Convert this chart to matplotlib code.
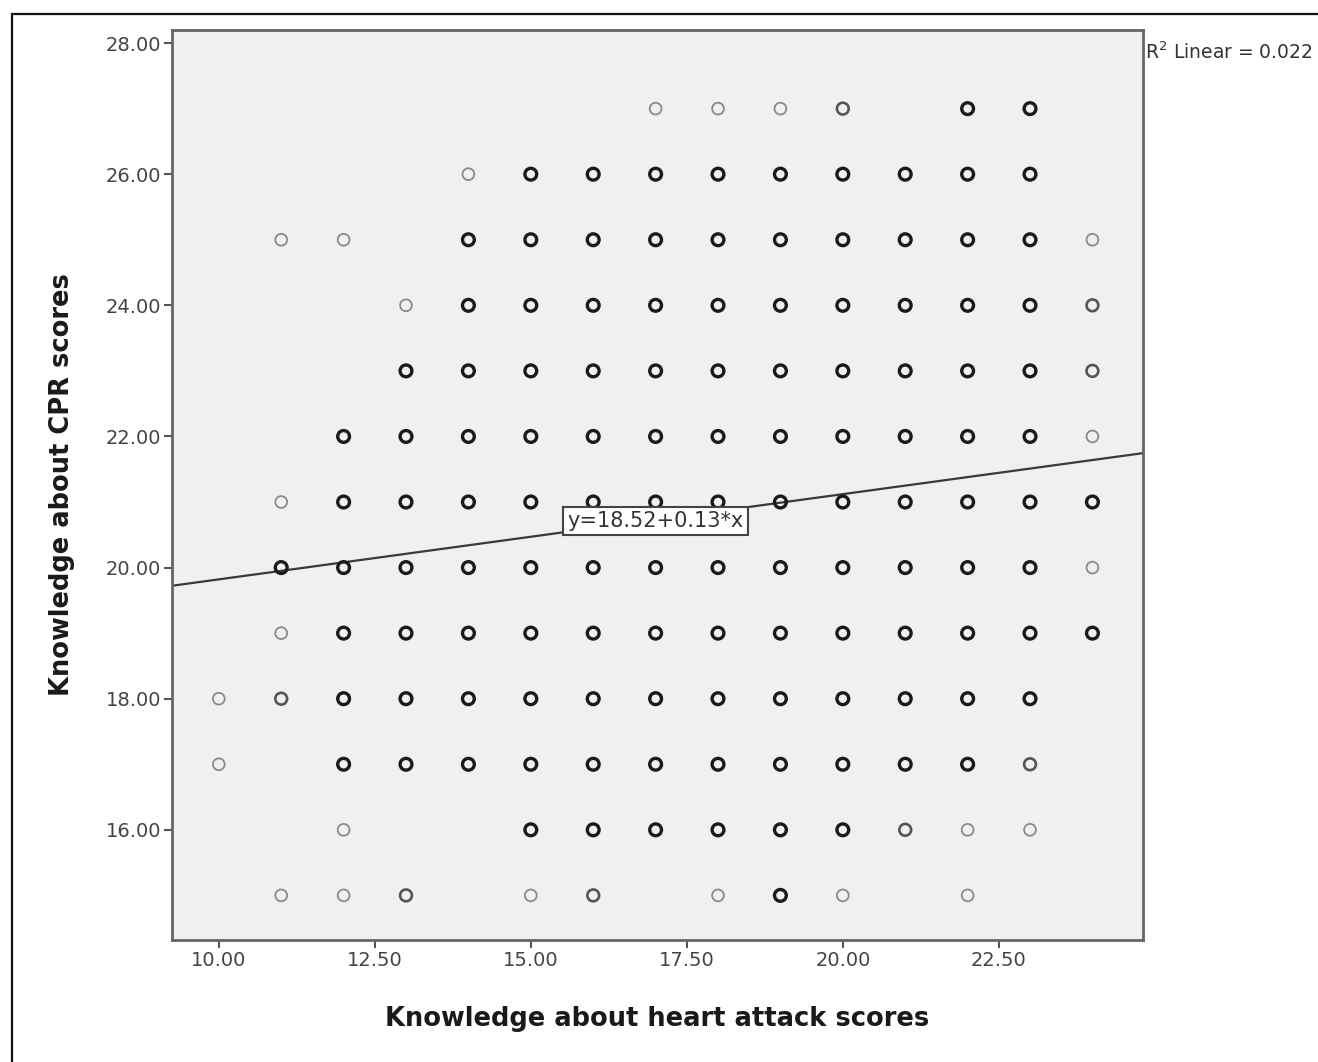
import numpy as np
from matplotlib import pyplot as plt
from matplotlib.patches import Rectangle

# scatter points, row by row (CPR score)
# density: 1 = single faint circle, 2 = medium, 3 = heavily overplotted
heart = [17, 18, 19, 20, 22, 23,                               # 27
         14, 15, 16, 17, 18, 19, 20, 21, 22, 23,               # 26
         11, 12, 14, 15, 16, 17, 18, 19, 20, 21, 22, 23, 24,   # 25
         13, 14, 15, 16, 17, 18, 19, 20, 21, 22, 23, 24,       # 24
         13, 14, 15, 16, 17, 18, 19, 20, 21, 22, 23, 24,       # 23
         12, 13, 14, 15, 16, 17, 18, 19, 20, 21, 22, 23, 24,   # 22
         11, 12, 13, 14, 15, 16, 17, 18, 19, 20, 21, 22, 23, 24,  # 21
         11, 12, 13, 14, 15, 16, 17, 18, 19, 20, 21, 22, 23, 24,  # 20
         11, 12, 13, 14, 15, 16, 17, 18, 19, 20, 21, 22, 23, 24,  # 19
         10, 11, 12, 13, 14, 15, 16, 17, 18, 19, 20, 21, 22, 23,  # 18
         10, 12, 13, 14, 15, 16, 17, 18, 19, 20, 21, 22, 23,      # 17
         12, 15, 16, 17, 18, 19, 20, 21, 22, 23,                  # 16
         11, 12, 13, 15, 16, 18, 19, 20, 22]                      # 15
cpr = ([27] * 6 + [26] * 10 + [25] * 13 + [24] * 12 + [23] * 12 + [22] * 13
       + [21] * 14 + [20] * 14 + [19] * 14 + [18] * 14 + [17] * 13 + [16] * 10 + [15] * 9)
density = [1, 1, 1, 2, 3, 3,
           1, 3, 3, 3, 3, 3, 3, 3, 3, 3,
           1, 1, 3, 3, 3, 3, 3, 3, 3, 3, 3, 3, 1,
           1, 3, 3, 3, 3, 3, 3, 3, 3, 3, 3, 2,
           3, 3, 3, 3, 3, 3, 3, 3, 3, 3, 3, 2,
           3, 3, 3, 3, 3, 3, 3, 3, 3, 3, 3, 3, 1,
           1, 3, 3, 3, 3, 3, 3, 3, 3, 3, 3, 3, 3, 3,
           3, 3, 3, 3, 3, 3, 3, 3, 3, 3, 3, 3, 3, 1,
           1, 3, 3, 3, 3, 3, 3, 3, 3, 3, 3, 3, 3, 3,
           1, 2, 3, 3, 3, 3, 3, 3, 3, 3, 3, 3, 3, 3,
           1, 3, 3, 3, 3, 3, 3, 3, 3, 3, 3, 3, 2,
           1, 3, 3, 3, 3, 3, 3, 2, 1, 1,
           1, 1, 2, 1, 2, 1, 3, 1, 1]

intercept = 18.52
slope = 0.13
r2 = 0.022

xticks = [10.0, 12.5, 15.0, 17.5, 20.0, 22.5]
yticks = [16, 18, 20, 22, 24, 26, 28]

heart = np.array(heart)
cpr = np.array(cpr)
density = np.array(density)

fig = plt.figure(figsize=(13.18, 10.62), dpi=100)
ax = fig.add_axes([0.1305, 0.1149, 0.7367, 0.8569])
ax.set_facecolor('#f0f0f0')

xlim = (9.25, 24.81)
ax.set_xlim(xlim)
ax.set_ylim(14.32, 28.2)

# fit line across the whole frame
xs = np.array(xlim)
ax.plot(xs, intercept + slope * xs, color='#3a3a3a', lw=1.6, zorder=2)

styles = {1: ('#8a8a8a', 1.3), 2: ('#555555', 1.9), 3: ('#1a1a1a', 2.4)}
for d, (col, lw) in styles.items():
    m = density == d
    ax.scatter(heart[m], cpr[m], s=72, facecolors='none', edgecolors=col,
               linewidths=lw, zorder=3)

ax.text(17.0, 20.71, f'y={intercept:.2f}+{slope:.2f}*x', ha='center', va='center',
        fontsize=15, color='#333333',
        bbox=dict(boxstyle='square,pad=0.2', fc='white', ec='#444444', lw=1.5), zorder=5)

ax.set_xticks(xticks)
ax.set_xticklabels([f'{t:.2f}' for t in xticks])
ax.set_yticks(yticks)
ax.set_yticklabels([f'{t:.2f}' for t in yticks])
ax.tick_params(direction='out', length=6, width=1.5, color='#555555',
               labelsize=14, labelcolor='#444444', pad=2)
for side in ['left', 'bottom', 'right', 'top']:
    ax.spines[side].set_color('#666666')
    ax.spines[side].set_linewidth(2)

ax.set_xlabel('Knowledge about heart attack scores', fontsize=18.5, fontweight='bold',
              color='#1a1a1a', labelpad=26)
ax.set_ylabel('Knowledge about CPR scores', fontsize=18.5, fontweight='bold',
              color='#1a1a1a', labelpad=22)

fig.text(0.8685, 0.951, f'R$^2$ Linear = {r2:.3f}', fontsize=13.5, color='#333333',
         ha='left', va='center')

# outer chart frame (right and bottom edges fall outside the image)
fig.patches.append(Rectangle((12 / 1318, -0.2), 1.5, 1.2 - 14 / 1062,
                             transform=fig.transFigure, fill=False,
                             ec='#111111', lw=1.6, zorder=0))

fig.savefig('out.png', dpi=100)
